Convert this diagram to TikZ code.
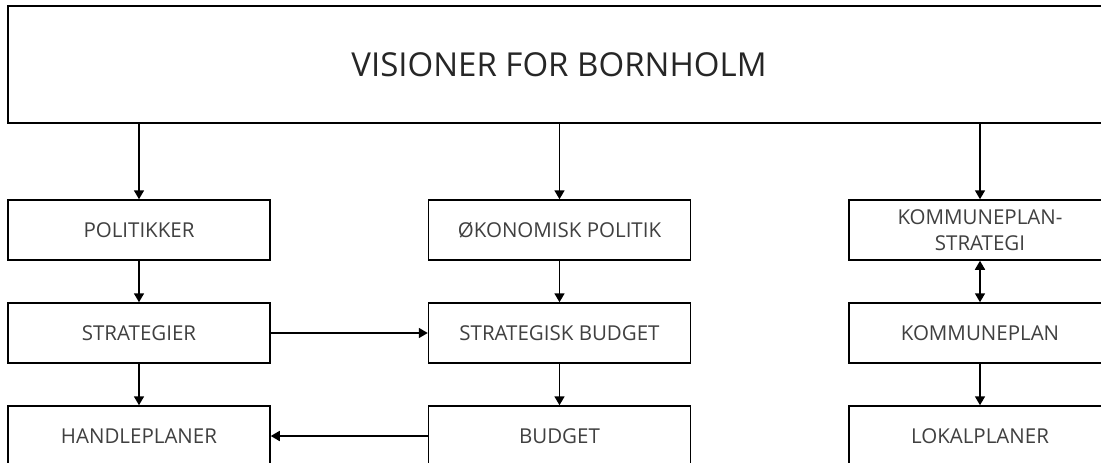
\documentclass[tikz,border=0pt]{standalone}
\usepackage{fontspec}
\setmainfont{Open Sans}
\usetikzlibrary{arrows.meta}
\begin{document}
\begin{tikzpicture}[x=1pt,y=1pt,
  box/.style={draw=black,line width=1.5pt,fill=white,minimum width=262pt,minimum height=60pt,inner sep=0pt,
    font=\fontsize{20.5}{26}\selectfont,text=black!75,align=center},
  arr/.style={line width=1.7pt,-{Triangle[width=10pt,length=9pt]}},
  darr/.style={line width=1.7pt,{Triangle[width=10pt,length=9pt]}-{Triangle[width=10pt,length=9pt]}}]
\useasboundingbox (0,0) rectangle (1101,-463);
\clip (0,0) rectangle (1101,-463);
\node[box,minimum width=1102pt,minimum height=117pt,
  font=\fontsize{33}{40}\selectfont,text=black!85]
  (top) at (559,-64.5) {VISIONER FOR BORNHOLM};
\node[box] (pol) at (139,-230) {POLITIKKER};
\node[box] (str) at (139,-333) {STRATEGIER};
\node[box] (han) at (139,-436) {HANDLEPLANER};
\node[box] (oek) at (559.5,-230) {ØKONOMISK POLITIK};
\node[box] (sb) at (559.5,-333) {STRATEGISK BUDGET};
\node[box] (bud) at (559.5,-436) {BUDGET};
\node[box] (kps) at (980,-230) {KOMMUNEPLAN-\\STRATEGI};
\node[box] (kp) at (980,-333) {KOMMUNEPLAN};
\node[box] (lok) at (980,-436) {LOKALPLANER};
\draw[arr] (top.south -| pol.north) -- (pol.north);
\draw[arr] (top.south -| oek.north) -- (oek.north);
\draw[arr] (top.south -| kps.north) -- (kps.north);
\draw[arr] (pol) -- (str);
\draw[arr] (str) -- (han);
\draw[arr] (oek) -- (sb);
\draw[arr] (sb) -- (bud);
\draw[darr] (kps) -- (kp);
\draw[arr] (kp) -- (lok);
\draw[arr] (str) -- (sb);
\draw[arr] (bud) -- (han);
\end{tikzpicture}
\end{document}
